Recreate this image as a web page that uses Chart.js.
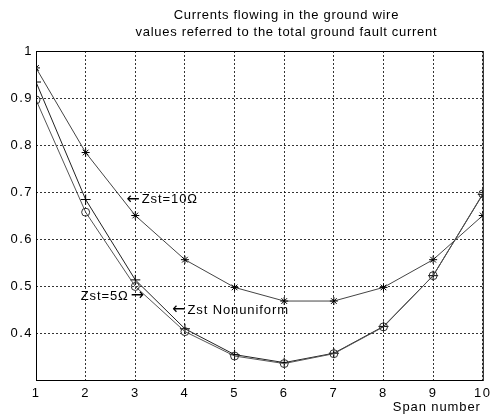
<!DOCTYPE html>
<html>
<head>
<meta charset="utf-8">
<script src="https://cdn.jsdelivr.net/npm/chart.js@4/dist/chart.umd.min.js"></script>
<style>
  html, body { margin: 0; padding: 0; background: #fff; }
  #wrap { width: 496px; height: 414px; }
</style>
</head>
<body>
<div id="wrap"><canvas id="groundWireChart"></canvas></div>
<script>
// span numbers and current ratios
const spans = [1, 2, 3, 4, 5, 6, 7, 8, 9, 10];
const zst10 = [0.964, 0.784, 0.650, 0.556, 0.497, 0.468, 0.468, 0.497, 0.556, 0.650];
const zst5 = [0.896, 0.657, 0.499, 0.403, 0.351, 0.335, 0.356, 0.413, 0.522, 0.696];
const zstNonuniform = [0.934, 0.684, 0.513, 0.409, 0.354, 0.337, 0.357, 0.414, 0.522, 0.695];
const titleLines = ['Currents flowing in the ground wire', 'values referred to the total ground fault current'];
const notes = [
    { x: 2.82, y: 0.684, before: '\u2190', text: 'Zst=10\u03A9', after: '' },
    { x: 1.9, y: 0.478, before: '', text: 'Zst=5\u03A9', after: '\u2192' },
    { x: 3.74, y: 0.449, before: '\u2190', text: 'Zst Nonuniform', after: '' }
];

const FONT = '"Liberation Sans", Arial, sans-serif';
const ARROW_FONT = '16px "DejaVu Sans", sans-serif';

function toPoints(values) {
    return spans.map(function (s, i) { return { x: s, y: values[i] }; });
}

// wider letter spacing like the original print
const spacing = {
    id: 'spacing',
    beforeDraw: function (chart) { chart.ctx.letterSpacing = '1.5px'; },
    afterDatasetsDraw: function (chart) { chart.ctx.letterSpacing = '0px'; }
};

// frame, title and the text notes
const decorations = {
    id: 'decorations',
    afterDraw: function (chart) {
        const ctx = chart.ctx;
        const area = chart.chartArea;
        const xs = chart.scales.x;
        const ys = chart.scales.y;
        ctx.save();
        ctx.strokeStyle = '#000';
        ctx.lineWidth = 1;
        ctx.strokeRect(area.left + 0.5, area.top + 0.5, area.right - area.left, area.bottom - area.top);

        ctx.fillStyle = '#000';
        ctx.font = '13px ' + FONT;
        ctx.letterSpacing = '0.7px';
        ctx.textAlign = 'center';
        ctx.textBaseline = 'middle';
        const cx = (area.left + area.right) / 2 + 27;
        ctx.fillText(titleLines[0], cx, area.top - 36);
        ctx.fillText(titleLines[1], cx, area.top - 19);

        ctx.textAlign = 'left';
        notes.forEach(function (n) {
            let px = xs.getPixelForValue(n.x);
            const py = ys.getPixelForValue(n.y);
            if (n.before) {
                ctx.letterSpacing = '0px';
                ctx.font = ARROW_FONT;
                ctx.fillText(n.before, px, py);
                px += ctx.measureText(n.before).width + 2;
            }
            ctx.letterSpacing = '0.9px';
            ctx.font = '13px ' + FONT;
            ctx.fillText(n.text, px, py);
            px += ctx.measureText(n.text).width + 2;
            if (n.after) {
                ctx.letterSpacing = '0px';
                ctx.font = ARROW_FONT;
                ctx.fillText(n.after, px, py);
            }
        });

        ctx.letterSpacing = '0.9px';
        ctx.font = '13px ' + FONT;
        ctx.textAlign = 'right';
        ctx.fillText('Span number', area.right - 2, area.bottom + 27);
        ctx.restore();
    }
};

const ctx = document.getElementById('groundWireChart').getContext('2d');

new Chart(ctx, {
    type: 'line',
    data: {
        datasets: [{
            label: 'Zst=10\u03A9',
            data: toPoints(zst10),
            borderColor: '#444',
            borderWidth: 1,
            pointStyle: 'star',
            pointRadius: 4,
            pointBorderColor: '#000',
            pointBorderWidth: 1,
            tension: 0
        }, {
            label: 'Zst=5\u03A9',
            data: toPoints(zst5),
            borderColor: '#555',
            borderWidth: 1,
            pointStyle: 'circle',
            pointRadius: 4,
            pointBackgroundColor: 'rgba(0,0,0,0)',
            pointBorderColor: '#333',
            pointBorderWidth: 1,
            tension: 0
        }, {
            label: 'Zst Nonuniform',
            data: toPoints(zstNonuniform),
            borderColor: '#222',
            borderWidth: 1,
            pointStyle: 'cross',
            pointRadius: 5,
            pointBorderColor: '#000',
            pointBorderWidth: 1,
            tension: 0
        }]
    },
    options: {
        responsive: true,
        maintainAspectRatio: false,
        animation: false,
        layout: {
            padding: { top: 51, right: 10, left: 0, bottom: 0 }
        },
        plugins: {
            legend: { display: false },
            tooltip: { enabled: false }
        },
        scales: {
            x: {
                type: 'linear',
                min: 1,
                max: 10,
                afterFit: function (scale) { scale.height = 34; },
                ticks: {
                    stepSize: 1,
                    color: '#000',
                    padding: 6,
                    font: { family: FONT, size: 13 }
                },
                grid: {
                    color: '#000',
                    lineWidth: 0.8,
                    drawTicks: false
                },
                border: { display: false, dash: [2, 2] }
            },
            y: {
                min: 0.3,
                max: 1,
                afterFit: function (scale) { scale.width = 36; },
                ticks: {
                    stepSize: 0.1,
                    color: '#000',
                    padding: 3,
                    font: { family: FONT, size: 13 },
                    callback: function (value) {
                        if (value < 0.35) return '';
                        return Math.round(value * 10) / 10 + '';
                    }
                },
                grid: {
                    color: '#000',
                    lineWidth: 0.8,
                    drawTicks: false
                },
                border: { display: false, dash: [2, 2] }
            }
        }
    },
    plugins: [spacing, decorations]
});
</script>
</body>
</html>
